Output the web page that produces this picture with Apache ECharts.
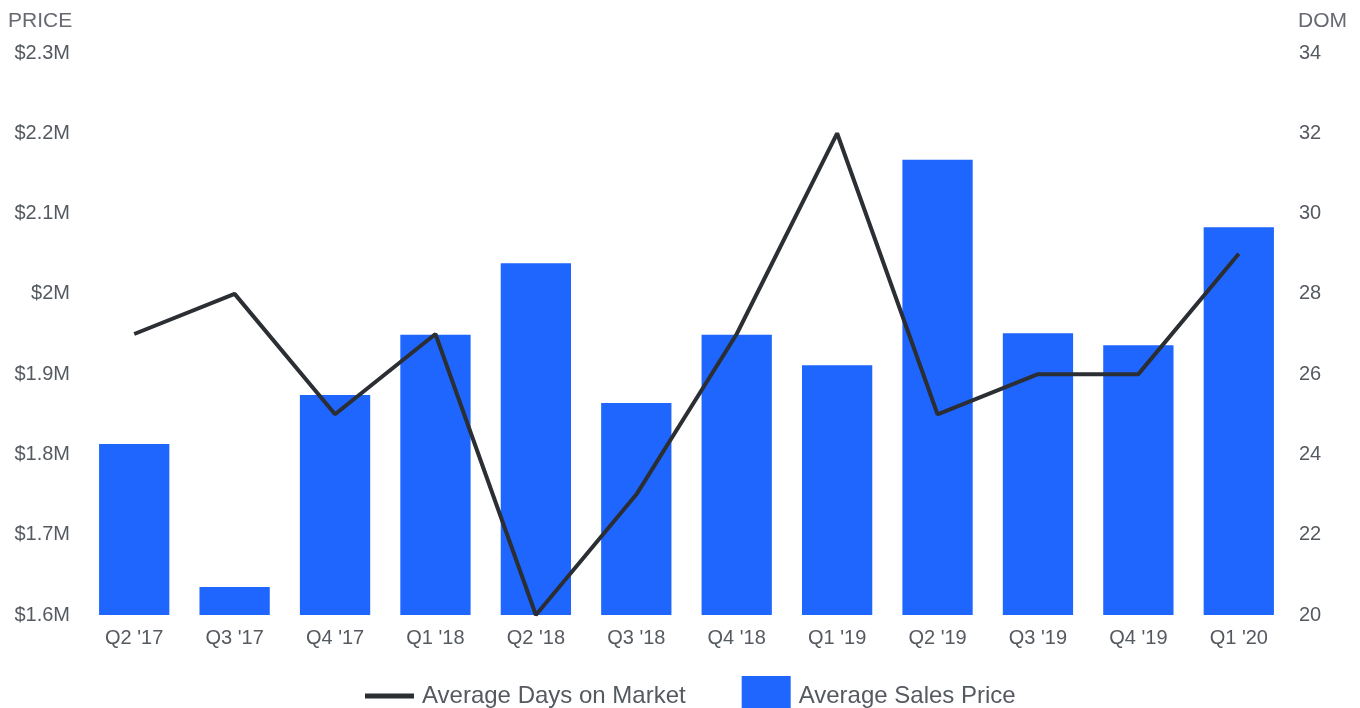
<!DOCTYPE html>
<html><head><meta charset="utf-8">
<script src="https://cdn.jsdelivr.net/npm/echarts@6/dist/echarts.min.js"></script>
<style>html,body{margin:0;padding:0;background:#fff}#c{width:1360px;height:708px}</style>
</head><body><div id="c"></div>
<script>
const categories = ["Q2 '17","Q3 '17","Q4 '17","Q1 '18","Q2 '18","Q3 '18","Q4 '18","Q1 '19","Q2 '19","Q3 '19","Q4 '19","Q1 '20"];
const avgSalesPrice = [1.813, 1.635, 1.874, 1.949, 2.038, 1.864, 1.949, 1.911, 2.167, 1.951, 1.936, 2.083]; // $M
const avgDaysOnMarket = [27, 28, 25, 27, 20, 23, 27, 32, 25, 26, 26, 29];

const txt = '#555a60';
const fontFamily = '"Liberation Sans", Arial, sans-serif';
const chart = echarts.init(document.getElementById('c'));
chart.setOption({
  animation: false,
  textStyle: {fontFamily: fontFamily},
  grid: {left: 84, right: 71, top: 53, bottom: 93},
  graphic: [
    {type: 'text', left: 8, top: 11, style: {text: 'PRICE', fill: '#666a70', font: '21px ' + fontFamily}},
    {type: 'text', right: 13, top: 11, style: {text: 'DOM', fill: '#666a70', font: '21px ' + fontFamily}}
  ],
  legend: {
    bottom: -8,
    padding: 0,
    left: 365,
    itemGap: 56,
    itemWidth: 49,
    itemHeight: 40,
    textStyle: {color: txt, fontSize: 24, fontFamily: fontFamily, padding: [0, 0, 0, 3]},
    data: [
      {name: 'Average Days on Market', icon: 'path://M0,0H50V5H0Z', itemStyle: {color: '#2b2e33'}},
      {name: 'Average Sales Price', icon: 'rect'}
    ]
  },
  xAxis: {
    type: 'category',
    data: categories,
    axisLine: {show: false},
    axisTick: {show: false},
    axisLabel: {color: txt, fontSize: 20, margin: 13}
  },
  yAxis: [
    {
      type: 'value', min: 1.6, max: 2.3, interval: 0.1,
      splitLine: {show: false}, axisLine: {show: false}, axisTick: {show: false},
      axisLabel: {color: txt, fontSize: 20, margin: 14,
        formatter: v => '$' + (Math.round(v * 10) / 10) + 'M'}
    },
    {
      type: 'value', min: 20, max: 34, interval: 2,
      splitLine: {show: false}, axisLine: {show: false}, axisTick: {show: false},
      axisLabel: {color: txt, fontSize: 20, margin: 10}
    }
  ],
  series: [
    {
      name: 'Average Sales Price', type: 'bar', yAxisIndex: 0,
      data: avgSalesPrice, barCategoryGap: '30%',
      itemStyle: {color: '#1f66ff'}, z: 1
    },
    {
      name: 'Average Days on Market', type: 'line', yAxisIndex: 1,
      data: avgDaysOnMarket, symbol: 'none',
      lineStyle: {color: '#2b2e33', width: 4},
      itemStyle: {color: '#2b2e33'}, z: 3
    }
  ]
});
</script></body></html>
